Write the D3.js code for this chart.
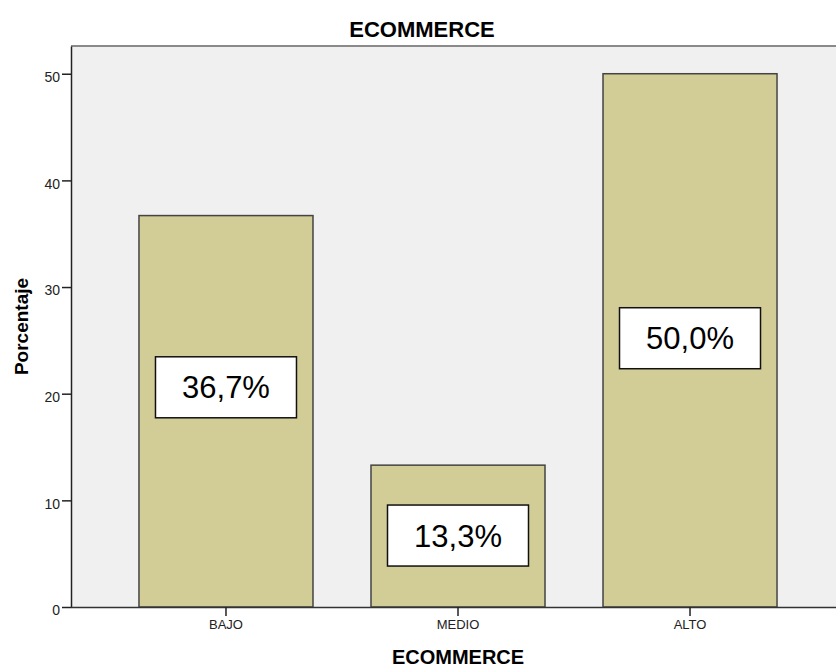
<!DOCTYPE html>
<html lang="es">
<head>
    <meta charset="UTF-8">
    <title>ECOMMERCE</title>
    <style>
        body { margin: 0; background: #fff; }
        svg text { font-family: Arial, "Liberation Sans", sans-serif; fill: #000; }
        .tick text { font-size: 14px; fill: #222; }
    </style>
</head>
<body>
    <svg width="836" height="667"></svg>

    <script src="https://d3js.org/d3.v7.min.js"></script>
    <script>
        // data
        const categories = ["BAJO", "MEDIO", "ALTO"];
        const percents = [36.7, 13.3, 50.0];
        const labels = ["36,7%", "13,3%", "50,0%"];
        // where the value boxes sit, in axis units
        const labelAt = [20.6, 6.7, 25.2];
        const yTicks = [0, 10, 20, 30, 40, 50];

        const width = 836, height = 667;
        const plotL = 71, plotT = 46, plotB = 607, plotR = 845;

        const svg = d3.select("svg")
            .attr("width", width)
            .attr("height", height);

        const x = d3.scaleBand()
            .domain(categories)
            .range([plotL, plotR])
            .paddingInner(0.25)
            .paddingOuter(0.293);

        const y = d3.scaleLinear()
            .domain([0, 52.6])
            .range([plotB, plotT]);

        // plot background
        svg.append("rect")
            .attr("x", plotL)
            .attr("y", plotT)
            .attr("width", width - plotL)
            .attr("height", plotB - plotT)
            .attr("fill", "#f0f0f0");

        svg.append("line")
            .attr("x1", plotL).attr("x2", width)
            .attr("y1", plotT).attr("y2", plotT)
            .attr("stroke", "#8a8a8a")
            .attr("stroke-width", 2);

        const rows = categories.map((c, i) => ({ cat: c, val: percents[i], lab: labels[i], at: labelAt[i] }));

        svg.selectAll(".bar")
            .data(rows)
            .enter().append("rect")
            .attr("class", "bar")
            .attr("x", d => x(d.cat))
            .attr("y", d => y(d.val))
            .attr("width", x.bandwidth())
            .attr("height", d => y(0) - y(d.val))
            .attr("fill", "#d2cd97")
            .attr("stroke", "#444")
            .attr("stroke-width", 1.5);

        // value boxes
        const boxW = 141, boxH = 61;
        const lab = svg.selectAll(".lab")
            .data(rows)
            .enter().append("g")
            .attr("class", "lab")
            .attr("transform", d => `translate(${x(d.cat) + x.bandwidth() / 2},${y(d.at)})`);

        lab.append("rect")
            .attr("x", -boxW / 2)
            .attr("y", -boxH / 2)
            .attr("width", boxW)
            .attr("height", boxH)
            .attr("fill", "#fff")
            .attr("stroke", "#111")
            .attr("stroke-width", 1.5);

        lab.append("text")
            .attr("text-anchor", "middle")
            .attr("dy", "0.36em")
            .style("font-size", "31px")
            .text(d => d.lab);

        // axes
        const yAxis = svg.append("g")
            .attr("transform", `translate(${plotL},0)`)
            .call(d3.axisLeft(y).tickValues(yTicks).tickSize(9).tickPadding(2).tickSizeOuter(0));
        yAxis.select(".domain").attr("stroke", "#222").attr("stroke-width", 1.5);
        yAxis.selectAll(".tick line").attr("stroke", "#222").attr("stroke-width", 1.5);
        yAxis.selectAll(".tick text").attr("dy", "0.55em");

        const xAxis = svg.append("g")
            .attr("transform", `translate(0,${plotB})`)
            .call(d3.axisBottom(x).tickSize(9).tickPadding(4).tickSizeOuter(0));
        xAxis.select(".domain").attr("d", `M${plotL},0.5H${width}`).attr("stroke", "#333").attr("stroke-width", 1.5);
        xAxis.selectAll(".tick line").attr("stroke", "#222").attr("stroke-width", 1.5);
        xAxis.selectAll(".tick text").style("font-size", "13px");

        // titles
        svg.append("text")
            .attr("x", 422)
            .attr("y", 37)
            .attr("text-anchor", "middle")
            .style("font-size", "22px")
            .style("font-weight", "bold")
            .text("ECOMMERCE");

        svg.append("text")
            .attr("x", 458)
            .attr("y", 664)
            .attr("text-anchor", "middle")
            .style("font-size", "20px")
            .style("font-weight", "bold")
            .text("ECOMMERCE");

        svg.append("text")
            .attr("transform", `translate(28,${(plotT + plotB) / 2}) rotate(-90)`)
            .attr("text-anchor", "middle")
            .style("font-size", "19px")
            .style("font-weight", "bold")
            .text("Porcentaje");
    </script>
</body>
</html>
